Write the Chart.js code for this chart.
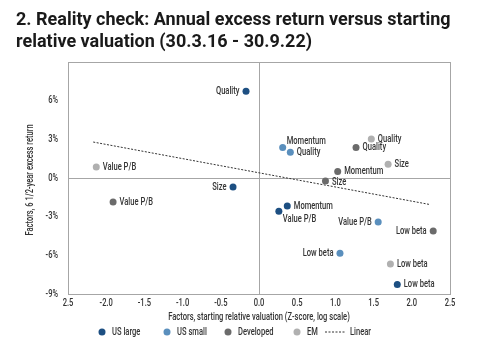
<!DOCTYPE html>
<html>
<head>
<meta charset="utf-8">
<script src="https://cdn.jsdelivr.net/npm/chart.js@4.4.0/dist/chart.umd.min.js"></script>
<style>
  html, body { margin: 0; padding: 0; background: #fff; }
  #wrap { position: relative; width: 480px; height: 345px; }
</style>
</head>
<body>
<div id="wrap"><canvas id="chart" width="480" height="345"></canvas></div>
<script>
const titleLines = ['2. Reality check: Annual excess return versus starting', 'relative valuation (30.3.16 - 30.9.22)'];
const xTitle = 'Factors, starting relative valuation (Z-score, log scale)';
const yTitle = 'Factors, 6 1/2-year excess return';
const xTickValues = [-2.5, -2.0, -1.5, -1.0, -0.5, 0, 0.5, 1.0, 1.5, 2.0, 2.5];
const xTickLabels = ['2.5', '-2.0', '-1.5', '-1.0', '-0.5', '0.0', '0.5', '1.0', '1.5', '2.0', '2.5'];
const yTickValues = [-9, -6, -3, 0, 3, 6];
const yTickLabels = ['-9%', '-6%', '-3%', '0%', '3%', '6%'];

const seriesNames = ['US large', 'US small', 'Developed', 'EM'];

const usLargeLabels = ['Quality', 'Size', 'Momentum', 'Value P/B', 'Low beta'];
const usLargeX = [-0.17, -0.34, 0.37, 0.26, 1.81];
const usLargeY = [6.74, -0.70, -2.17, -2.58, -8.26];

const usSmallLabels = ['Momentum', 'Quality', 'Value P/B', 'Low beta'];
const usSmallX = [0.31, 0.41, 1.56, 1.06];
const usSmallY = [2.36, 1.99, -3.41, -5.84];

const developedLabels = ['Value P/B', 'Quality', 'Momentum', 'Size', 'Low beta'];
const developedX = [-1.91, 1.27, 1.03, 0.87, 2.28];
const developedY = [-1.86, 2.36, 0.50, -0.23, -4.11];

const emLabels = ['Value P/B', 'Quality', 'Size', 'Low beta'];
const emX = [-2.13, 1.47, 1.69, 1.72];
const emY = [0.85, 3.02, 1.06, -6.67];

const linearX = [-2.17, 2.23];
const linearY = [2.79, -2.05];

function toPoints(xs, ys) {
    return xs.map((x, i) => ({ x: x, y: ys[i] }));
}

const colors = ['#1d4f82', '#5a8fbd', '#6b6b6b', '#b0b0b0'];
const textColor = '#333';
const font = 'Roboto, "DejaVu Sans", sans-serif';
const textWeight = '500';
const squeeze = 0.72;

// draws text squeezed horizontally, to mimic the condensed face of the original
function squeezedText(ctx, str, x, y, align, size, weight, sq) {
    ctx.font = (weight || textWeight) + ' ' + size + 'px ' + font;
    const w = ctx.measureText(str).width * (sq || squeeze);
    let left = x;
    if (align === 'right') left = x - w;
    else if (align === 'center') left = x - w / 2;
    ctx.textAlign = 'left';
    ctx.fillText(str, left, y, w);
    return w;
}

// where each point's label sits: r = right, l = left, ar = above right, br = below right
const labelSides = [
    ['l', 'l', 'r', 'br', 'r'],
    ['ar', 'r', 'l', 'l'],
    ['r', 'r', 'r', 'rd', 'l'],
    ['r', 'r', 'r', 'r']
];
const pointLabels = [usLargeLabels, usSmallLabels, developedLabels, emLabels];
const legendMarkerX = [102, 167, 228, 297];

const textPlugin = {
    id: 'squeezedText',
    afterDatasetsDraw(chart) {
        const ctx = chart.ctx;
        ctx.save();
        ctx.fillStyle = textColor;
        ctx.textBaseline = 'middle';
        pointLabels.forEach((labels, di) => {
            const meta = chart.getDatasetMeta(di);
            meta.data.forEach((pt, i) => {
                const side = labelSides[di][i];
                let x = pt.x, y = pt.y, align = 'left';
                if (side === 'l') { align = 'right'; x -= 6.5; }
                else if (side === 'r') { x += 6.5; }
                else if (side === 'rd') { x += 6.5; y += 1.5; }
                else if (side === 'ar') { x += 4; y -= 6.5; }
                else { x += 4; y += 8; }
                squeezedText(ctx, labels[i], x, y, align, 10.5);
            });
        });
        ctx.restore();
    },
    afterDraw(chart) {
        const ctx = chart.ctx;
        const xs = chart.scales.x, ys = chart.scales.y;
        ctx.save();
        ctx.fillStyle = '#1a1a1a';
        ctx.textBaseline = 'alphabetic';

        // title, fitted to the width of the original's first line
        ctx.font = 'bold 18px ' + font;
        const tsq = 444 / ctx.measureText(titleLines[0]).width;
        squeezedText(ctx, titleLines[0], 16, 25, 'left', 18, 'bold', tsq);
        squeezedText(ctx, titleLines[1], 16, 47, 'left', 18, 'bold', tsq);

        ctx.fillStyle = textColor;
        ctx.textBaseline = 'middle';
        xTickValues.forEach((v, i) => {
            squeezedText(ctx, xTickLabels[i], xs.getPixelForValue(v), 303.5, 'center', 10.5);
        });
        yTickValues.forEach((v, i) => {
            squeezedText(ctx, yTickLabels[i], 58, ys.getPixelForValue(v), 'right', 10.5);
        });
        squeezedText(ctx, xTitle, (xs.left + xs.right) / 2, 317, 'center', 10.5);

        ctx.save();
        ctx.translate(30, 180);
        ctx.rotate(-Math.PI / 2);
        squeezedText(ctx, yTitle, 0, 0, 'center', 10.5);
        ctx.restore();

        // legend
        const y = 332;
        seriesNames.forEach((name, i) => {
            const x = legendMarkerX[i];
            ctx.beginPath();
            ctx.fillStyle = colors[i];
            ctx.arc(x, y, 3.5, 0, Math.PI * 2);
            ctx.fill();
            ctx.fillStyle = textColor;
            squeezedText(ctx, name, x + 10, y, 'left', 10.5);
        });
        const lx = 325;
        ctx.strokeStyle = textColor;
        ctx.lineWidth = 1;
        ctx.setLineDash([2, 1.5]);
        ctx.beginPath();
        ctx.moveTo(lx, y);
        ctx.lineTo(lx + 21, y);
        ctx.stroke();
        ctx.setLineDash([]);
        squeezedText(ctx, 'Linear', lx + 25, y, 'left', 10.5);
        ctx.restore();
    }
};

const scatterSets = [
    toPoints(usLargeX, usLargeY),
    toPoints(usSmallX, usSmallY),
    toPoints(developedX, developedY),
    toPoints(emX, emY)
].map((data, i) => ({
    type: 'scatter',
    label: seriesNames[i],
    data: data,
    backgroundColor: colors[i],
    borderColor: colors[i],
    pointRadius: 3.5,
    pointBorderWidth: 0
}));

const gridColor = '#a6a6a6';

const ctx = document.getElementById('chart').getContext('2d');
const chart = new Chart(ctx, {
    type: 'scatter',
    data: {
        datasets: scatterSets.concat([{
            type: 'line',
            label: 'Linear',
            data: toPoints(linearX, linearY),
            borderColor: '#333',
            borderWidth: 1,
            borderDash: [2, 1.5],
            pointRadius: 0,
            fill: false
        }])
    },
    options: {
        responsive: false,
        animation: false,
        layout: { padding: { left: 68, right: 30, top: 62, bottom: 51 } },
        plugins: {
            legend: { display: false },
            tooltip: { enabled: false },
            title: { display: false }
        },
        scales: {
            x: {
                type: 'linear',
                min: -2.5,
                max: 2.5,
                ticks: { stepSize: 0.5, display: false },
                grid: {
                    drawTicks: false,
                    color: (c) => (c.tick && (c.tick.value === 0 || c.tick.value === 2.5)) ? gridColor : 'rgba(0,0,0,0)'
                },
                border: { color: gridColor, width: 1 }
            },
            y: {
                type: 'linear',
                min: -9,
                max: 9,
                ticks: { stepSize: 3, display: false },
                grid: {
                    drawTicks: false,
                    color: (c) => (c.tick && (c.tick.value === 0 || c.tick.value === 9)) ? gridColor : 'rgba(0,0,0,0)'
                },
                border: { color: gridColor, width: 1 }
            }
        }
    },
    plugins: [textPlugin]
});
</script>
</body>
</html>
